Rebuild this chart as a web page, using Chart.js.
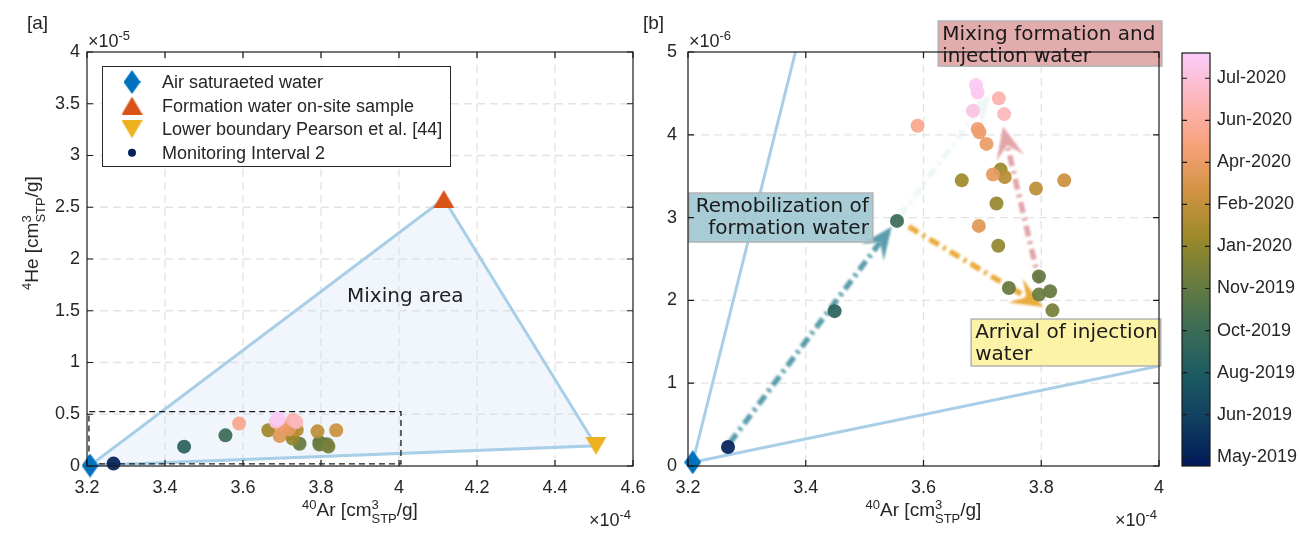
<!DOCTYPE html>
<html>
<head>
<meta charset="utf-8">
<title>He-Ar mixing</title>
<script src="https://cdn.jsdelivr.net/npm/chart.js@4.4.1/dist/chart.umd.min.js"></script>
<style>
  html, body { margin: 0; padding: 0; background: #fff; }
  #wrap { position: relative; width: 1300px; height: 541px; overflow: hidden; }
  canvas { position: absolute; top: 0; }
</style>
</head>
<body>
<div id="wrap">
  <canvas id="panelA" width="660" height="541" style="left:0"></canvas>
  <canvas id="panelB" width="540" height="541" style="left:635px"></canvas>
  <canvas id="cbar" width="125" height="541" style="left:1175px"></canvas>
</div>
<script>
// --- samples of monitoring interval 2 ---
// 40Ar in 1e-4 cm3STP/g, 4He in 1e-6 cm3STP/g
const ar40 = [3.268, 3.449, 3.555, 3.796, 3.745, 3.815, 3.796, 3.819, 3.727, 3.724, 3.731, 3.665, 3.738,
              3.791, 3.839, 3.694, 3.718, 3.707, 3.695, 3.692, 3.590, 3.728, 3.737, 3.684, 3.692, 3.689];
const he4  = [0.23, 1.87, 2.96, 2.29, 2.15, 2.11, 2.07, 1.88, 2.66, 3.17, 3.58, 3.45, 3.49,
              3.35, 3.45, 2.90, 3.52, 3.89, 4.03, 4.07, 4.11, 4.44, 4.25, 4.29, 4.51, 4.60];
// sample date as position on the colourbar (0 = May-2019 ... 9 = Jul-2020)
const sampleDate = [0, 2.5, 3.0, 4.0, 4.1, 4.1, 4.2, 4.5, 5.0, 5.1, 5.2, 5.3, 5.8,
                    5.9, 6.2, 6.7, 6.9, 7.0, 7.1, 7.2, 7.7, 8.2, 8.5, 9.2, 9.4, 9.5];

// end members
const endNames = ['Air saturaeted water', 'Formation water on-site sample', 'Lower boundary Pearson et al. [44]'];
const endAr = [3.208, 4.115, 4.505];
const endHe = [0.045, 25.8, 1.95];
const endColors = ['#0072BD', '#D95319', '#EDB120'];
const sampleName = 'Monitoring Interval 2';

// colourbar
const cbLabels = ['May-2019', 'Jun-2019', 'Aug-2019', 'Oct-2019', 'Nov-2019',
                  'Jan-2020', 'Feb-2020', 'Apr-2020', 'Jun-2020', 'Jul-2020'];
const cbMin = -0.22, cbMax = 9.6;
const batlow = ['#011959', '#103F60', '#1C5A62', '#3C6D56', '#687B3E',
                '#9D892B', '#D29343', '#F8A17B', '#FDB7BC', '#FACCFA'];

// ticks
const aXTicks = [3.2, 3.4, 3.6, 3.8, 4, 4.2, 4.4, 4.6];
const aYTicks = [0, 0.5, 1, 1.5, 2, 2.5, 3, 3.5, 4];   // 1e-5
const bXTicks = [3.2, 3.4, 3.6, 3.8, 4];
const bYTicks = [0, 1, 2, 3, 4, 5];                    // 1e-6

// arrows in panel b (data coords)
const arrowFrom = [[3.271, 0.28], [3.575, 2.89], [3.797, 2.21], [3.56, 3.02]];
const arrowTo   = [[3.546, 2.89], [3.803, 1.92], [3.735, 4.10], [3.713, 4.48]];
const arrowColor = ['rgba(82,152,168,0.95)', 'rgba(234,168,52,0.95)', 'rgba(224,156,158,0.9)', 'rgba(120,180,200,0.12)'];

// text boxes in panel b (data coords)
const notes = [
  { lines: ['Remobilization of', 'formation water'], x: [3.2017, 3.514], y: [2.705, 3.297], fill: 'rgba(160,200,210,0.92)', align: 'right' },
  { lines: ['Arrival of injection', 'water'], x: [3.681, 4.003], y: [1.208, 1.775], fill: 'rgba(253,242,160,0.92)', align: 'left' },
  { lines: ['Mixing formation and', 'injection water'], x: [3.625, 4.005], y: [4.83, 5.374], fill: 'rgba(222,160,162,0.88)', align: 'left' }
];

const sans = '"Liberation Sans", Arial, Helvetica, sans-serif';
const dejavu = '"DejaVu Sans", Verdana, sans-serif';
const ink = '#262626';

function hexToRgb(h) {
  const n = parseInt(h.slice(1), 16);
  return [n >> 16, (n >> 8) & 255, n & 255];
}
const batlowRgb = batlow.map(hexToRgb);

function dateColor(v, a) {
  let f = (v - cbMin) / (cbMax - cbMin);
  f = Math.min(1, Math.max(0, f));
  const p = f * (batlowRgb.length - 1);
  const i = Math.min(Math.floor(p), batlowRgb.length - 2);
  const t = p - i;
  const c = batlowRgb[i].map((c0, k) => Math.round(c0 + (batlowRgb[i + 1][k] - c0) * t));
  return 'rgba(' + c[0] + ',' + c[1] + ',' + c[2] + ',' + a + ')';
}

// matlab-like markers
function marker(shape, color) {
  const c = document.createElement('canvas');
  const w = shape === 'diamond' ? 17 : 21, h = shape === 'diamond' ? 24 : 18;
  c.width = w; c.height = h;
  const g = c.getContext('2d');
  g.fillStyle = color;
  g.beginPath();
  if (shape === 'diamond') { g.moveTo(w / 2, 0); g.lineTo(w, h / 2); g.lineTo(w / 2, h); g.lineTo(0, h / 2); }
  else if (shape === 'up') { g.moveTo(w / 2, 0); g.lineTo(w, h); g.lineTo(0, h); }
  else { g.moveTo(0, 0); g.lineTo(w, 0); g.lineTo(w / 2, h); }
  g.closePath();
  g.fill();
  return c;
}
const endMarkers = [marker('diamond', endColors[0]), marker('up', endColors[1]), marker('down', endColors[2])];

// text with super/subscripts, parts: strings or {sup, sub}
function richText(ctx, parts, x, y, align, size) {
  const big = size + 'px ' + sans, small = Math.round(size * 0.7) + 'px ' + sans;
  let w = 0;
  const items = parts.map(p => {
    let pw;
    if (typeof p === 'string') { ctx.font = big; pw = ctx.measureText(p).width; }
    else {
      ctx.font = small;
      pw = Math.max(p.sup ? ctx.measureText(p.sup).width : 0, p.sub ? ctx.measureText(p.sub).width : 0);
    }
    w += pw;
    return { p: p, w: pw };
  });
  let cx = align === 'center' ? x - w / 2 : (align === 'right' ? x - w : x);
  ctx.textAlign = 'left';
  ctx.textBaseline = 'alphabetic';
  items.forEach(it => {
    if (typeof it.p === 'string') { ctx.font = big; ctx.fillText(it.p, cx, y); }
    else {
      ctx.font = small;
      if (it.p.sup) ctx.fillText(it.p.sup, cx, y - size * 0.38);
      if (it.p.sub) ctx.fillText(it.p.sub, cx, y + size * 0.36);
    }
    cx += it.w;
  });
}

const xTitle = [{ sup: '40' }, 'Ar [cm', { sup: '3', sub: 'STP' }, '/g]'];
const yTitle = [{ sup: '4' }, 'He [cm', { sup: '3', sub: 'STP' }, '/g]'];

// grid under the data, box with inward ticks on top
const frame = {
  id: 'frame',
  beforeDatasetsDraw(chart) {
    const { ctx, chartArea: a, scales: { x, y } } = chart;
    ctx.save();
    ctx.strokeStyle = '#e3e3e3';
    ctx.lineWidth = 1.3;
    ctx.setLineDash([8, 5]);
    ctx.beginPath();
    x.ticks.forEach(t => {
      const px = x.getPixelForValue(t.value);
      if (px > a.left + 2 && px < a.right - 2) { ctx.moveTo(px, a.top); ctx.lineTo(px, a.bottom); }
    });
    y.ticks.forEach(t => {
      const py = y.getPixelForValue(t.value);
      if (py > a.top + 2 && py < a.bottom - 2) { ctx.moveTo(a.left, py); ctx.lineTo(a.right, py); }
    });
    ctx.stroke();
    ctx.restore();
  },
  afterDraw(chart) {
    const { ctx, chartArea: a, scales: { x, y } } = chart;
    ctx.save();
    ctx.strokeStyle = '#1a1a1a';
    ctx.lineWidth = 1.2;
    ctx.strokeRect(a.left, a.top, a.right - a.left, a.bottom - a.top);
    ctx.beginPath();
    x.ticks.forEach(t => {
      const px = x.getPixelForValue(t.value);
      ctx.moveTo(px, a.bottom); ctx.lineTo(px, a.bottom - 6);
      ctx.moveTo(px, a.top); ctx.lineTo(px, a.top + 6);
    });
    y.ticks.forEach(t => {
      const py = y.getPixelForValue(t.value);
      ctx.moveTo(a.left, py); ctx.lineTo(a.left + 6, py);
      ctx.moveTo(a.right, py); ctx.lineTo(a.right - 6, py);
    });
    ctx.stroke();
    ctx.restore();
  }
};

function axisTexts(chart, panel, panelX, expo, withYTitle) {
  const { ctx, chartArea: a } = chart;
  ctx.save();
  ctx.fillStyle = ink;
  ctx.font = '19px ' + sans;
  ctx.textBaseline = 'alphabetic';
  ctx.fillText(panel, panelX, 29);
  richText(ctx, ['\u00d710', { sup: expo }], a.left + 1, 47, 'left', 18);
  richText(ctx, xTitle, (a.left + a.right) / 2, 516, 'center', 19);
  richText(ctx, ['\u00d710', { sup: '-4' }], a.right - 2, 526, 'right', 18);
  if (withYTitle) {
    ctx.translate(38, 290);
    ctx.rotate(-Math.PI / 2);
    richText(ctx, yTitle, 0, 0, 'left', 19);
  }
  ctx.restore();
}

function scaleOpts(xt, yt, yWidth, yPad) {
  const tickFont = { family: sans, size: 18 };
  return {
    x: {
      type: 'linear', min: xt[0], max: xt[xt.length - 1],
      grid: { display: false, drawTicks: false }, border: { display: false },
      afterBuildTicks: s => { s.ticks = xt.map(v => ({ value: v })); },
      afterFit: s => { s.height = 75; },
      ticks: { font: tickFont, color: ink, padding: 11, maxRotation: 0, autoSkip: false, callback: v => String(v) }
    },
    y: {
      type: 'linear', min: yt[0], max: yt[yt.length - 1],
      grid: { display: false, drawTicks: false }, border: { display: false },
      afterBuildTicks: s => { s.ticks = yt.map(v => ({ value: v })); },
      afterFit: s => { s.width = yWidth; },
      ticks: { font: tickFont, color: ink, padding: yPad, autoSkip: false, callback: v => String(v) }
    }
  };
}

const samplePointsA = ar40.map((v, i) => ({ x: v, y: he4[i] / 10 }));
const samplePointsB = ar40.map((v, i) => ({ x: v, y: he4[i] }));
const sampleColors = sampleDate.map(d => dateColor(d, 0.93));
const mixA = [0, 1, 2, 0].map(i => ({ x: endAr[i], y: endHe[i] / 10 }));
const mixB = [0, 1, 2, 0].map(i => ({ x: endAr[i], y: endHe[i] }));
// zoom window of panel b drawn in panel a
const zoomBox = [[3.205, 0.02], [4.005, 0.02], [4.005, 0.525], [3.205, 0.525], [3.205, 0.02]].map(p => ({ x: p[0], y: p[1] }));

// ---------------- panel a ----------------
new Chart(document.getElementById('panelA'), {
  type: 'scatter',
  data: {
    datasets: [
      {
        label: 'mixing area', data: mixA, showLine: true, order: 3, tension: 0,
        borderColor: '#a9cfe8', borderWidth: 3, pointRadius: 0,
        fill: 'shape', backgroundColor: 'rgba(200,222,240,0.28)'
      },
      {
        label: 'zoom', data: zoomBox, showLine: true, order: 2,
        borderColor: '#1a1a1a', borderWidth: 1.3, borderDash: [6, 4], pointRadius: 0, fill: false
      },
      {
        label: sampleName, data: samplePointsA, order: 1, clip: false,
        pointRadius: 7, pointBorderWidth: 0, pointBackgroundColor: sampleColors
      },
      {
        label: 'end members', data: endAr.map((v, i) => ({ x: v, y: endHe[i] / 10 })), order: 0, clip: false,
        pointStyle: endMarkers, pointRadius: 12
      }
    ]
  },
  options: {
    responsive: false, animation: false, events: [],
    layout: { padding: { top: 52, right: 27, left: 0, bottom: 0 } },
    scales: scaleOpts(aXTicks, aYTicks, 87, 7),
    plugins: { legend: { display: false }, tooltip: { enabled: false } }
  },
  plugins: [frame, {
    id: 'panelAText',
    afterDatasetsDraw(chart) {
      const { ctx, chartArea: a } = chart;
      ctx.save();
      ctx.fillStyle = '#222';
      ctx.font = '20px ' + dejavu;
      ctx.textBaseline = 'alphabetic';
      ctx.fillText('Mixing area', 347, 302);
      // legend
      const lx = a.left + 15, ly = a.top + 14, lw = 348, lh = 100;
      ctx.fillStyle = '#fff';
      ctx.fillRect(lx, ly, lw, lh);
      ctx.strokeStyle = ink;
      ctx.lineWidth = 1;
      ctx.strokeRect(lx + 0.5, ly + 0.5, lw, lh);
      ctx.font = '18px ' + sans;
      ctx.textBaseline = 'middle';
      ctx.fillStyle = ink;
      endNames.concat([sampleName]).forEach((name, i) => {
        const yy = ly + 16 + i * 23.6;
        if (i < 3) {
          const m = endMarkers[i];
          ctx.drawImage(m, lx + 30 - m.width / 2, yy - m.height / 2);
        } else {
          ctx.beginPath();
          ctx.fillStyle = dateColor(0, 1);
          ctx.arc(lx + 30, yy, 4, 0, Math.PI * 2);
          ctx.fill();
          ctx.fillStyle = ink;
        }
        ctx.fillText(name, lx + 60, yy + 1);
      });
      ctx.restore();
    },
    afterDraw(chart) { axisTexts(chart, '[a]', 27, '-5', true); }
  }]
});

// ---------------- panel b ----------------
function drawArrow(ctx, sx, sy, ex, ey, color) {
  const dx = ex - sx, dy = ey - sy, len = Math.hypot(dx, dy);
  const ux = dx / len, uy = dy / len, nx = -uy, ny = ux;
  const L = 32, W = 14, notch = 0.6 * L;
  ctx.save();
  ctx.filter = 'blur(1px)';
  ctx.strokeStyle = color;
  ctx.fillStyle = color;
  ctx.lineWidth = 5.5;
  ctx.setLineDash([11, 5, 3, 5]);
  ctx.beginPath();
  ctx.moveTo(sx, sy);
  ctx.lineTo(ex - ux * notch, ey - uy * notch);
  ctx.stroke();
  ctx.setLineDash([]);
  ctx.beginPath();
  ctx.moveTo(ex, ey);
  ctx.lineTo(ex - ux * L + nx * W, ey - uy * L + ny * W);
  ctx.lineTo(ex - ux * notch, ey - uy * notch);
  ctx.lineTo(ex - ux * L - nx * W, ey - uy * L - ny * W);
  ctx.closePath();
  ctx.fill();
  ctx.restore();
}

new Chart(document.getElementById('panelB'), {
  type: 'scatter',
  data: {
    datasets: [
      {
        label: 'mixing lines', data: mixB, showLine: true, order: 3, tension: 0,
        borderColor: '#a9cfe8', borderWidth: 3, pointRadius: 0, fill: false
      },
      {
        label: sampleName, data: samplePointsB, order: 1, clip: false,
        pointRadius: 7, pointBorderWidth: 0, pointBackgroundColor: sampleColors
      },
      {
        label: 'end members', data: endAr.map((v, i) => ({ x: v, y: endHe[i] })), order: 0, clip: false,
        pointStyle: endMarkers, pointRadius: 12
      }
    ]
  },
  options: {
    responsive: false, animation: false, events: [],
    layout: { padding: { top: 52, right: 13, left: 0, bottom: 0 } },
    scales: scaleOpts(bXTicks, bYTicks, 53, 11),
    plugins: { legend: { display: false }, tooltip: { enabled: false } }
  },
  plugins: [frame, {
    id: 'panelBNotes',
    beforeDatasetsDraw(chart) {
      const { ctx, scales: { x, y } } = chart;
      arrowFrom.forEach((f, i) => {
        const t = arrowTo[i];
        drawArrow(ctx, x.getPixelForValue(f[0]), y.getPixelForValue(f[1]),
                  x.getPixelForValue(t[0]), y.getPixelForValue(t[1]), arrowColor[i]);
      });
    },
    afterDatasetsDraw(chart) {
      const { ctx, scales: { x, y } } = chart;
      ctx.save();
      notes.forEach(n => {
        const x0 = x.getPixelForValue(n.x[0]), x1 = x.getPixelForValue(n.x[1]);
        const y0 = y.getPixelForValue(n.y[1]), y1 = y.getPixelForValue(n.y[0]);
        ctx.fillStyle = n.fill;
        ctx.fillRect(x0, y0, x1 - x0, y1 - y0);
        ctx.strokeStyle = '#b3b3b3';
        ctx.lineWidth = 1.5;
        ctx.strokeRect(x0, y0, x1 - x0, y1 - y0);
        ctx.fillStyle = '#1a1a1a';
        ctx.font = '20px ' + dejavu;
        ctx.textBaseline = 'alphabetic';
        ctx.textAlign = n.align;
        n.lines.forEach((s, k) => {
          ctx.fillText(s, n.align === 'right' ? x1 - 4 : x0 + 4, y0 + 19 + k * 22);
        });
      });
      ctx.restore();
    },
    afterDraw(chart) { axisTexts(chart, '[b]', 8, '-6', false); }
  }]
});

// ---------------- colourbar ----------------
new Chart(document.getElementById('cbar'), {
  type: 'scatter',
  data: { datasets: [] },
  options: {
    responsive: false, animation: false, events: [],
    layout: { padding: { top: 53, left: 7, bottom: 75, right: 0 } },
    scales: {
      x: { type: 'linear', min: 0, max: 1, display: false },
      y: {
        type: 'linear', position: 'right', min: cbMin, max: cbMax,
        grid: { display: false, drawTicks: false }, border: { display: false },
        afterBuildTicks: s => { s.ticks = cbLabels.map((_, i) => ({ value: i })); },
        afterFit: s => { s.width = 90; },
        ticks: { font: { family: sans, size: 18 }, color: ink, padding: 7, autoSkip: false, callback: v => cbLabels[v] }
      }
    },
    plugins: { legend: { display: false }, tooltip: { enabled: false } }
  },
  plugins: [{
    id: 'cbFill',
    afterDraw(chart) {
      const { ctx, chartArea: a, scales: { y } } = chart;
      const g = ctx.createLinearGradient(0, a.bottom, 0, a.top);
      batlow.forEach((c, i) => g.addColorStop(i / (batlow.length - 1), c));
      ctx.save();
      ctx.fillStyle = g;
      ctx.fillRect(a.left, a.top, a.right - a.left, a.bottom - a.top);
      ctx.strokeStyle = '#1a1a1a';
      ctx.lineWidth = 1.2;
      ctx.strokeRect(a.left, a.top, a.right - a.left, a.bottom - a.top);
      ctx.beginPath();
      y.ticks.forEach(t => {
        const py = y.getPixelForValue(t.value);
        ctx.moveTo(a.left, py); ctx.lineTo(a.left + 5, py);
        ctx.moveTo(a.right, py); ctx.lineTo(a.right - 5, py);
      });
      ctx.stroke();
      ctx.restore();
    }
  }]
});
</script>
</body>
</html>
